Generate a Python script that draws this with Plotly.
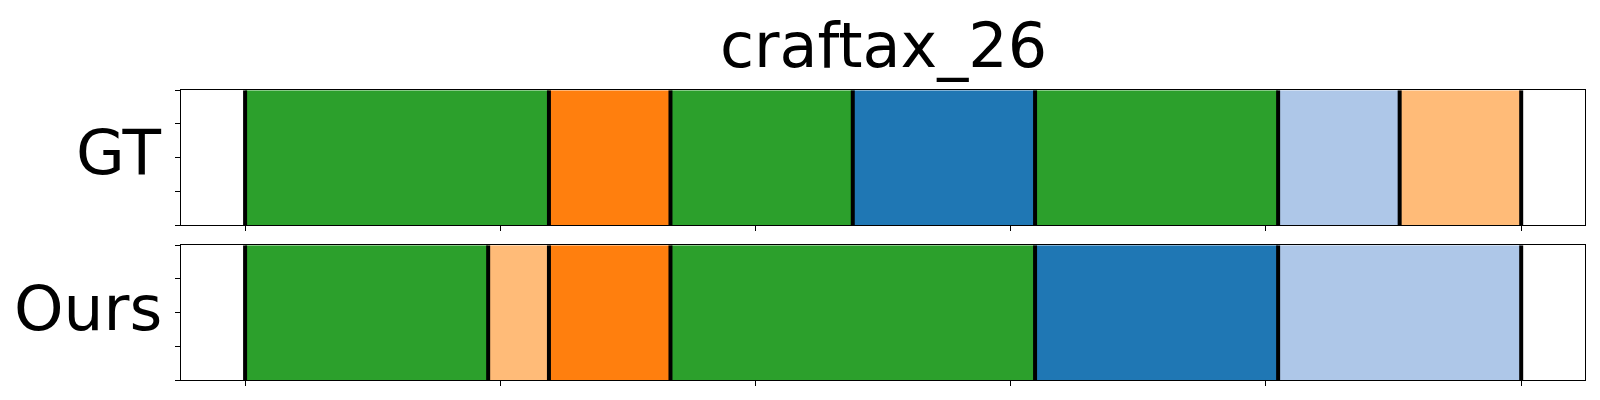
import plotly.graph_objects as go

# Data: segment lengths (in steps) and their class colours
total_steps = 21
gt_lengths = [5, 2, 3, 3, 4, 2, 2]
gt_classes = ["green", "orange", "green", "blue", "green", "lightblue", "lightorange"]
ours_lengths = [4, 1, 2, 6, 4, 4]
ours_classes = ["green", "lightorange", "orange", "green", "blue", "lightblue"]
row_names = ["GT", "Ours"]
title_text = "craftax_26"
x_ticks = [0, 0.2, 0.4, 0.6, 0.8, 1.0]
y_ticks = [0, 0.25, 0.5, 0.75, 1.0]

palette = {
    "blue": "#1f77b4",
    "lightblue": "#aec7e8",
    "orange": "#ff7f0e",
    "lightorange": "#ffbb78",
    "green": "#2ca02c",
}

OFF = 8  # default page body margin
W, H = 1600 - OFF, 400 - OFF


def px_x(p):
    return (p - OFF) / W


def px_y(p):
    return 1 - (p - OFF) / H


x_dom = [px_x(181.3), px_x(1585)]
y_doms = [[px_y(225), px_y(90.3)], [px_y(380), px_y(245.3)]]

fig = go.Figure()
rows = [(gt_lengths, gt_classes), (ours_lengths, ours_classes)]
for i, (lengths, classes) in enumerate(rows):
    xa = "x" if i == 0 else "x2"
    ya = "y" if i == 0 else "y2"
    starts = []
    acc = 0
    for L in lengths:
        starts.append(acc / total_steps)
        acc += L
    widths = [L / total_steps for L in lengths]
    fig.add_trace(go.Bar(
        orientation="h", y=[0.5] * len(lengths), x=widths, base=starts,
        width=1.0, marker=dict(color=[palette[c] for c in classes], line=dict(width=0)),
        xaxis=xa, yaxis=ya, showlegend=False, hoverinfo="skip",
    ))
    bounds = starts + [acc / total_steps]
    lx, ly = [], []
    for b in bounds:
        lx += [b, b, None]
        ly += [0, 1, None]
    fig.add_trace(go.Scatter(
        x=lx, y=ly, mode="lines", line=dict(color="black", width=4),
        xaxis=xa, yaxis=ya, showlegend=False, hoverinfo="skip",
    ))

axis_common = dict(showline=True, linecolor="black", linewidth=1.2, mirror=True,
                   showgrid=False, zeroline=False, ticks="outside", ticklen=5,
                   tickwidth=1.2, tickcolor="black", showticklabels=False)

fig.update_layout(
    width=W, height=H,
    margin=dict(l=0, r=0, t=0, b=0),
    paper_bgcolor="white", plot_bgcolor="white",
    barmode="overlay",
    xaxis=dict(domain=x_dom, range=[-0.05, 1.05], tickvals=x_ticks, anchor="y", **axis_common),
    yaxis=dict(domain=y_doms[0], range=[0, 1], tickvals=y_ticks, anchor="x", **axis_common),
    xaxis2=dict(domain=x_dom, range=[-0.05, 1.05], tickvals=x_ticks, anchor="y2", **axis_common),
    yaxis2=dict(domain=y_doms[1], range=[0, 1], tickvals=y_ticks, anchor="x2", **axis_common),
    font=dict(family="DejaVu Sans", color="black"),
)

fig.add_annotation(text=title_text, xref="paper", yref="paper",
                   x=(x_dom[0] + x_dom[1]) / 2, y=px_y(46), xanchor="center", yanchor="middle",
                   showarrow=False, borderpad=0,
                   font=dict(size=62, family="DejaVu Sans", color="black"))
label_y = [152, 308]
for name, yc in zip(row_names, label_y):
    fig.add_annotation(text=name, xref="paper", yref="paper",
                       x=px_x(163), y=px_y(yc), xanchor="right", yanchor="middle",
                       showarrow=False, borderpad=0,
                       font=dict(size=63, family="DejaVu Sans", color="black"))

fig.write_html("out.html")
